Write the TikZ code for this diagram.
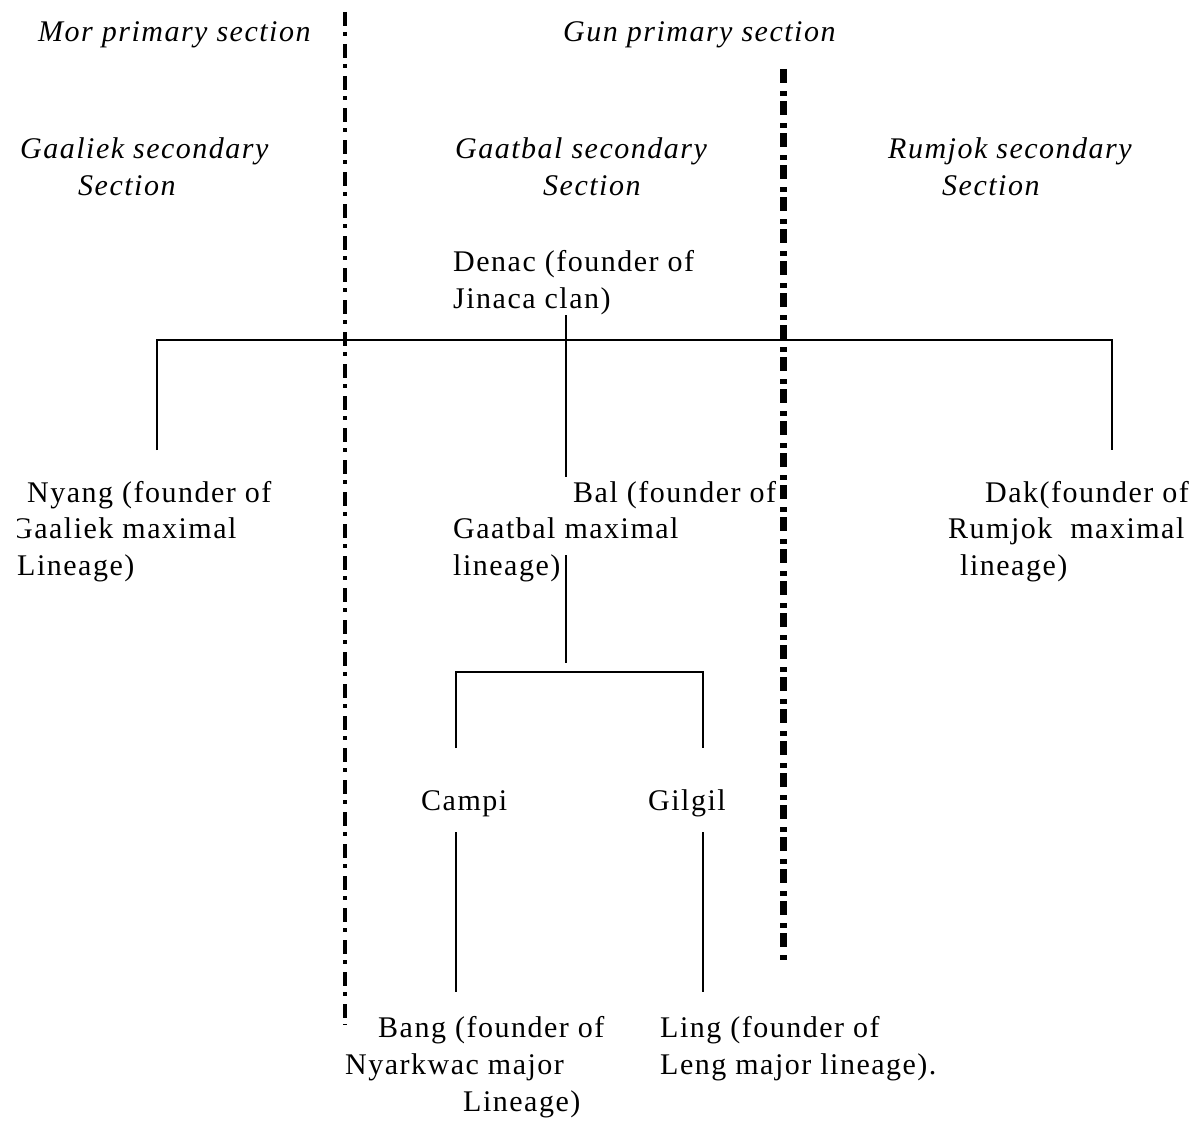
\documentclass[tikz,border=0pt]{standalone}
\usepackage{fontspec}
\setmainfont{Liberation Serif}[LetterSpace=5]
\begin{document}
\begin{tikzpicture}[x=1pt,y=-1pt,
  txt/.style={inner sep=0pt, anchor=base west, font=\fontsize{30}{36}\selectfont},
  head/.style={txt, font=\fontsize{30}{36}\selectfont\itshape},
  tree/.style={line width=2.5pt},
  sepA/.style={line width=4.5pt, dash pattern=on 14pt off 6pt on 4pt off 8pt},
  sepB/.style={line width=7pt, dash pattern=on 14pt off 8pt on 5pt off 5pt}]
\useasboundingbox[fill=white] (0,0) rectangle (1194,1124);
% section headings
\node[head] (mor) at (38,42) {Mor primary section};
\node[head] (gun) at (563,42) {Gun primary section};
\node[head] (gaaS) at (20,158) {Gaaliek secondary};
\node[head] (gaaS2) at (78,195) {Section};
\node[head] (gatS) at (455,158) {Gaatbal secondary};
\node[head] (gatS2) at (543,195) {Section};
\node[head] (rumS) at (888,158) {Rumjok secondary};
\node[head] (rumS2) at (942,195) {Section};
% genealogy
\node[txt] (denac1) at (453,271) {Denac (founder of};
\node[txt] (denac2) at (453,308) {Jinaca clan)};
\node[txt] (nyang1) at (27,502) {Nyang (founder of};
\begin{scope}
\clip (17,400) rectangle (400,600);
\node[txt] (nyang2) at (11,538) {Gaaliek maximal};
\node[txt] (nyang3) at (17,575) {Lineage)};
\end{scope}
\node[txt] (bal1) at (573,502) {Bal (founder of};
\node[txt] (bal2) at (453,538) {Gaatbal maximal};
\node[txt] (bal3) at (453,575) {lineage)};
\node[txt] (dak1) at (985,502) {Dak(founder of};
\node[txt] (dak2) at (948,538) {Rumjok\ \ maximal};
\node[txt] (dak3) at (960,575) {lineage)};
\node[txt] (campi) at (421,810) {Campi};
\node[txt] (gilgil) at (648,810) {Gilgil};
\node[txt] (bang1) at (378,1037) {Bang (founder of};
\node[txt] (bang2) at (345,1074) {Nyarkwac major};
\node[txt] (bang3) at (463,1111) {Lineage)};
\node[txt] (ling1) at (660,1037) {Ling (founder of};
\node[txt] (ling2) at (660,1074) {Leng major lineage).};
% tree coordinates
\coordinate (dtop) at (566,315);
\coordinate (dbot) at (566,477);
\coordinate (barL) at (157,340);
\coordinate (barR) at (1112,340);
\coordinate (nyT) at (157,450);
\coordinate (dkT) at (1112,450);
\coordinate (balT) at (566,555);
\coordinate (balB) at (566,663);
\coordinate (b2L) at (456,672);
\coordinate (b2R) at (703,672);
\coordinate (caT) at (456,748);
\coordinate (giT) at (703,748);
\coordinate (caB) at (456,832);
\coordinate (giB) at (703,832);
\coordinate (bgT) at (456,992);
\coordinate (liT) at (703,992);
\draw[tree] (dtop) -- (dbot);
\draw[tree] (nyT) -- (barL) -- (barR) -- (dkT);
\draw[tree] (balT) -- (balB);
\draw[tree] (caT) -- (b2L) -- (b2R) -- (giT);
\draw[tree] (caB) -- (bgT);
\draw[tree] (giB) -- (liT);
% separators
\coordinate (s1t) at (345,12);
\coordinate (s1b) at (345,1025);
\coordinate (s2t) at (783,69);
\coordinate (s2b) at (783,962);
\draw[sepA] (s1t) -- (s1b);
\draw[sepB] (s2t) -- (s2b);
\end{tikzpicture}
\end{document}
